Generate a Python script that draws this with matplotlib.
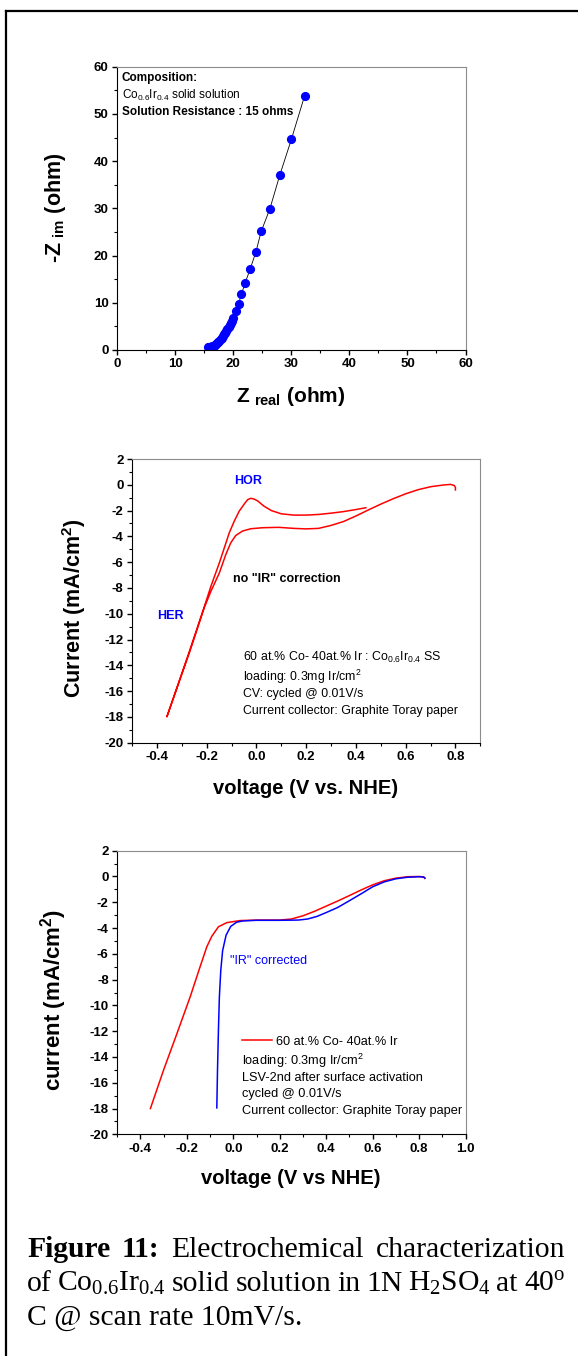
import matplotlib
matplotlib.use("Agg")
import matplotlib.pyplot as plt
from matplotlib.ticker import MultipleLocator, FuncFormatter
from matplotlib.lines import Line2D

plt.rcParams['font.family'] = 'Liberation Sans'
plt.rcParams['font.weight'] = 'bold'
plt.rcParams['mathtext.default'] = 'regular'
plt.rcParams['axes.unicode_minus'] = False

# impedance spectrum (Nyquist)
z_real = [15.6, 15.8, 16.0, 16.2, 16.4, 16.6, 16.8, 17.0, 17.2, 17.4, 17.6, 17.8,
          18.0, 18.2, 18.4, 18.6, 18.8, 19.0, 19.2, 19.4, 19.6, 19.8, 20.0, 20.4,
          20.9, 21.4, 22.0, 22.9, 23.9, 24.8, 26.3, 28.0, 30.0, 32.3]
z_im = [0.6, 0.55, 0.6, 0.7, 0.8, 0.95, 1.1, 1.3, 1.5, 1.75, 2.0, 2.3,
        2.6, 2.95, 3.3, 3.65, 4.05, 4.45, 4.9, 5.3, 5.75, 6.2, 6.8, 8.3,
        9.8, 11.8, 14.1, 17.1, 20.8, 25.1, 29.9, 37.0, 44.6, 53.9]

# cyclic voltammogram, no iR correction (one continuous sweep)
cv_voltage = [0.44, 0.40, 0.35, 0.30, 0.25, 0.20, 0.15, 0.10, 0.06, 0.03, 0.005,
              -0.01, -0.023, -0.035, -0.045, -0.069, -0.089, -0.109, -0.129,
              -0.149, -0.183, -0.209, -0.269, -0.36,
              -0.269, -0.209, -0.183, -0.149, -0.123, -0.103, -0.083, -0.056,
              -0.023, 0.024, 0.09, 0.15, 0.20, 0.25, 0.30, 0.35, 0.40, 0.45,
              0.50, 0.55, 0.60, 0.65, 0.70, 0.75, 0.78, 0.795, 0.80, 0.80]
cv_current = [-1.78, -1.92, -2.08, -2.2, -2.3, -2.35, -2.35, -2.25, -2.0, -1.65, -1.25,
              -1.1, -1.05, -1.15, -1.39, -2.04, -2.82, -3.72, -4.89,
              -6.06, -7.88, -9.43, -12.9, -18.0,
              -13.0, -9.5, -8.27, -6.84, -5.41, -4.5, -3.93, -3.59,
              -3.41, -3.33, -3.3, -3.38, -3.42, -3.38, -3.15, -2.85, -2.42, -1.95,
              -1.5, -1.08, -0.7, -0.38, -0.15, -0.02, 0.03, -0.05, -0.2, -0.4]

# LSV, raw and iR corrected
lsv_voltage = [-0.357, -0.3, -0.243, -0.186, -0.143, -0.114, -0.093, -0.064, -0.028,
               0.029, 0.1, 0.2, 0.25, 0.3, 0.35, 0.4, 0.45, 0.5, 0.55, 0.6, 0.65,
               0.7, 0.75, 0.8, 0.82, 0.825]
lsv_current = [-18.0, -15.0, -12.2, -9.35, -7.0, -5.45, -4.65, -3.9, -3.58,
               -3.42, -3.38, -3.38, -3.3, -3.05, -2.7, -2.3, -1.9, -1.48, -1.05,
               -0.65, -0.33, -0.13, -0.02, 0.0, -0.03, -0.15]
ir_voltage = [-0.071, -0.068, -0.064, -0.06, -0.054, -0.046, -0.031, -0.011, 0.014,
              0.04, 0.1, 0.2, 0.28, 0.32, 0.36, 0.4, 0.45, 0.5, 0.55, 0.6, 0.65,
              0.7, 0.75, 0.8, 0.82, 0.825]
ir_current = [-17.95, -15.0, -11.9, -9.35, -7.3, -5.75, -4.55, -3.87, -3.55,
              -3.45, -3.4, -3.4, -3.38, -3.3, -3.1, -2.8, -2.4, -1.88, -1.35,
              -0.8, -0.42, -0.18, -0.06, -0.02, -0.05, -0.12]

cv_notes = ['60 at.% Co- 40at.% Ir : Co$_{0.6}$Ir$_{0.4}$ SS',
            'loading: 0.3mg Ir/cm$^2$',
            'CV: cycled @ 0.01V/s',
            'Current collector: Graphite Toray paper']
lsv_notes = ['loading: 0.3mg Ir/cm$^2$',
             'LSV-2nd after surface activation',
             'cycled @ 0.01V/s',
             'Current collector: Graphite Toray paper']

RED = '#ff0000'
BLUE = '#0000ff'
W, H = 578, 1356

fig = plt.figure(figsize=(W / 100, H / 100), dpi=100)


def px_box(left, top, right, bottom):
    return [left / W, 1 - bottom / H, (right - left) / W, (bottom - top) / H]


def fig_label(x, y, text, size, rotation=0):
    fig.text(x / W, 1 - y / H, text, fontsize=size, rotation=rotation,
             ha='center', va='center')


def style_axes(ax, xmaj, xmin, ymaj, ymin, xfmt):
    for side in ('left', 'bottom'):
        ax.spines[side].set_color('black')
    for side in ('top', 'right'):
        ax.spines[side].set_color('#8c8c8c')
    ax.xaxis.set_major_locator(MultipleLocator(xmaj))
    ax.xaxis.set_minor_locator(MultipleLocator(xmin))
    ax.yaxis.set_major_locator(MultipleLocator(ymaj))
    ax.yaxis.set_minor_locator(MultipleLocator(ymin))
    ax.xaxis.set_major_formatter(FuncFormatter(lambda v, p: xfmt.format(round(v, 1) + 0.0)))
    ax.yaxis.set_major_formatter(FuncFormatter(lambda v, p: '{:d}'.format(int(round(v)))))
    ax.tick_params(which='major', direction='out', length=3.6, width=1,
                   labelsize=9.5, pad=2.5)
    ax.tick_params(which='minor', direction='out', length=2.2, width=0.8)
    ax.tick_params(which='both', top=False, right=False)


# --- Nyquist plot ---
ax1 = fig.add_axes(px_box(117.2, 66.7, 465.5, 350))
ax1.plot(z_real, z_im, color='black', lw=0.6, zorder=1)
ax1.plot(z_real, z_im, 'o', color=BLUE, ms=5.6, mec=BLUE, zorder=2)
ax1.set_xlim(0, 60)
ax1.set_ylim(0, 60)
style_axes(ax1, 10, 5, 10, 5, '{:.0f}')
ax1.text(0.8, 57.6, 'Composition:', fontsize=8.5, va='center')
ax1.text(0.8, 54.0, 'Co$_{0.6}$Ir$_{0.4}$ solid solution', fontsize=8.5,
         fontweight='normal', va='center')
ax1.text(0.8, 50.4, 'Solution Resistance : 15 ohms', fontsize=8.5, va='center')
fig_label(55, 208, '-Z$_{\\ im}$ (ohm)', 15.5, rotation=90)
fig_label(291, 397, 'Z$_{\\ real}$ (ohm)', 15)

# --- CV without iR correction ---
ax2 = fig.add_axes(px_box(132, 459, 480.3, 742.7))
ax2.plot(cv_voltage, cv_current, color=RED, lw=1.1)
ax2.set_xlim(-0.5, 0.9)
ax2.set_ylim(-20, 2)
style_axes(ax2, 0.2, 0.1, 2, 1, '{:.1f}')
ax2.text(-0.09, 0.3, 'HOR', color=BLUE, fontsize=9, va='center')
ax2.text(-0.397, -10.15, 'HER', color=BLUE, fontsize=9, va='center')
ax2.text(-0.093, -7.33, 'no "IR" correction', fontsize=9, va='center')
for note, yv in zip(cv_notes, [-13.38, -14.93, -16.22, -17.52]):
    ax2.text(-0.0525, yv, note, fontsize=8.9, fontweight='normal', va='center')
fig_label(74, 608, 'Current (mA/cm$^2$)', 15.5, rotation=90)
fig_label(306, 788, 'voltage (V vs. NHE)', 14.5)

# --- LSV with and without iR correction ---
ax3 = fig.add_axes(px_box(117.2, 850.7, 465.5, 1134.3))
ax3.plot(lsv_voltage, lsv_current, color=RED, lw=1.1, label='60 at.% Co- 40at.% Ir')
ax3.plot(ir_voltage, ir_current, color=BLUE, lw=1.1)
ax3.set_xlim(-0.5, 1.0)
ax3.set_ylim(-20, 2)
style_axes(ax3, 0.2, 0.1, 2, 1, '{:.1f}')
ax3.text(-0.016, -6.56, '"IR" corrected', color=BLUE, fontsize=9,
         fontweight='normal', va='center')
ax3.legend(loc='center left', bbox_to_anchor=((0.0365 + 0.5) / 1.5, (-12.82 + 20) / 22),
           frameon=False, prop={'size': 9.2, 'weight': 'normal'},
           handlelength=2.4, handletextpad=0.25, borderpad=0, borderaxespad=0)
for note, yv in zip(lsv_notes, [-14.29, -15.61, -16.87, -18.17]):
    ax3.text(0.036, yv, note, fontsize=9.2, fontweight='normal', va='center')
fig_label(53.5, 1000, 'current (mA/cm$^2$)', 16, rotation=90)
fig_label(291, 1178, 'voltage (V vs NHE)', 14.5)

# page frame (top and left rules)
fig.add_artist(Line2D([6 / W, 1], [1 - 11 / H, 1 - 11 / H], color='black', lw=1.6,
                      transform=fig.transFigure))
fig.add_artist(Line2D([6 / W, 6 / W], [1 - 11 / H, 0], color='black', lw=1.6,
                      transform=fig.transFigure))


# caption, justified word by word
def justify(words, y_px, x0=27, x1=565, size=21.3):
    r = fig.canvas.get_renderer()
    texts = [fig.text(0, 1 - y_px / H, w, family='Liberation Serif', fontsize=size,
                      fontweight=wt, va='baseline') for w, wt in words]
    widths = [t.get_window_extent(r).width for t in texts]
    gap = (x1 - x0 - sum(widths)) / (len(texts) - 1)
    x = x0
    for t, w in zip(texts, widths):
        t.set_x(x / W)
        x += w + gap


justify([('Figure', 'bold'), ('11:', 'bold'), ('Electrochemical', 'normal'),
         ('characterization', 'normal')], 1257)
justify([(w, 'normal') for w in ['of', 'Co$_{0.6}$Ir$_{0.4}$', 'solid', 'solution', 'in',
                                  '1N', 'H$_2$SO$_4$', 'at', '40$^o$']], 1291)
fig.text(27 / W, 1 - 1325 / H, 'C @ scan rate 10mV/s.', family='Liberation Serif',
         fontsize=21.3, fontweight='normal', va='baseline')

fig.savefig('out.png', dpi=100)
